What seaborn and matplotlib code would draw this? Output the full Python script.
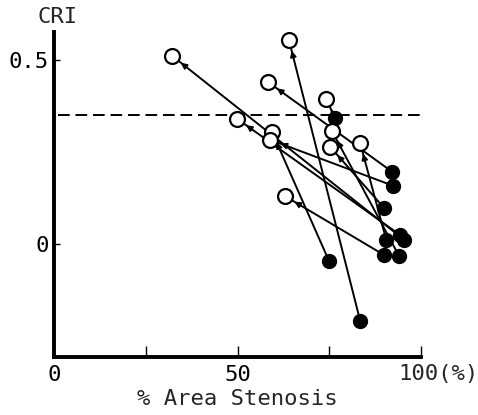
import numpy as np
import pandas as pd
import seaborn as sns
import matplotlib.pyplot as plt

# pre (filled) and post (open) values for each vessel
pre_stenosis = [95.4, 83.4, 92.1, 76.6, 94.3, 74.9, 92.4, 94.0, 89.9, 90.5, 89.9]
pre_cri = [0.011, -0.209, 0.196, 0.342, 0.024, -0.046, 0.158, -0.033, 0.098, 0.011, -0.030]
post_stenosis = [32.2, 64.0, 58.3, 74.1, 49.9, 59.4, 58.9, 75.7, 75.2, 83.4, 62.9]
post_cri = [0.511, 0.554, 0.440, 0.394, 0.340, 0.304, 0.283, 0.307, 0.264, 0.274, 0.130]
cutoff = 0.35
x_ticks = [0, 25, 50, 75, 100]
x_labels = ["0", "", "50", "", ""]
y_ticks = [0, 0.5]
y_labels = ["0", "0.5"]

n = len(pre_cri)
df = pd.DataFrame({
    "pair": list(range(n)) * 2,
    "stage": ["pre"] * n + ["post"] * n,
    "stenosis": pre_stenosis + post_stenosis,
    "cri": pre_cri + post_cri,
})

sns.set_style("white")
plt.rcParams["font.family"] = ["DejaVu Sans Mono", "Liberation Mono"]

fig = plt.figure(figsize=(4.78, 4.15), dpi=100)
ax = fig.add_axes([0.113, 0.140, 0.768, 0.783])
ax.set_xlim(0, 100)
ax.set_ylim(-0.307, 0.576)

# cutoff line
ax.axhline(cutoff, xmin=0.01, xmax=1, color="black", lw=1.4, ls=(0, (6, 3)), zorder=1)

# connecting lines
sns.lineplot(data=df, x="stenosis", y="cri", units="pair", estimator=None,
             sort=False, color="black", lw=1.4, ax=ax, zorder=2)

# small arrowheads near the post point
for i in range(n):
    p0 = ax.transData.transform((pre_stenosis[i], pre_cri[i]))
    p1 = ax.transData.transform((post_stenosis[i], post_cri[i]))
    d = p1 - p0
    u = d / np.hypot(*d)
    tip = p1 - u * 11
    tail = p1 - u * 19
    tip_d = ax.transData.inverted().transform(tip)
    tail_d = ax.transData.inverted().transform(tail)
    ax.annotate("", xy=tip_d, xytext=tail_d,
                arrowprops=dict(arrowstyle="-|>", color="black", lw=1.2,
                                mutation_scale=9, shrinkA=0, shrinkB=0),
                zorder=3)

sns.scatterplot(data=df[df.stage == "pre"], x="stenosis", y="cri", s=100,
                color="black", edgecolor="black", linewidth=1, ax=ax, zorder=4)
sns.scatterplot(data=df[df.stage == "post"], x="stenosis", y="cri", s=115,
                facecolor="white", edgecolor="black", linewidth=1.6, ax=ax, zorder=4)

for s in ["top", "right"]:
    ax.spines[s].set_visible(False)
for s in ["left", "bottom"]:
    ax.spines[s].set_linewidth(2.8)
    ax.spines[s].set_color("black")

ax.set_xticks(x_ticks)
ax.set_xticklabels(x_labels)
ax.set_yticks(y_ticks)
ax.set_yticklabels(y_labels)
ax.tick_params(axis="x", direction="in", length=8, width=1, labelsize=16, pad=6, colors="black")
ax.tick_params(axis="y", direction="in", length=4, width=1, labelsize=16, pad=4, colors="black")
ax.tick_params(bottom=True, left=True)

ax.annotate("100(%)", xy=(100, 0), xycoords=("data", "axes fraction"),
            xytext=(-23, -7), textcoords="offset pixels", ha="left", va="top", fontsize=16)
ax.set_xlabel("% Area Stenosis", fontsize=16, labelpad=3)
ax.set_ylabel("")
ax.text(-0.045, 1.015, "CRI", transform=ax.transAxes, fontsize=16, ha="left", va="bottom")
ax.grid(False)

fig.savefig("out.png", dpi=100)
